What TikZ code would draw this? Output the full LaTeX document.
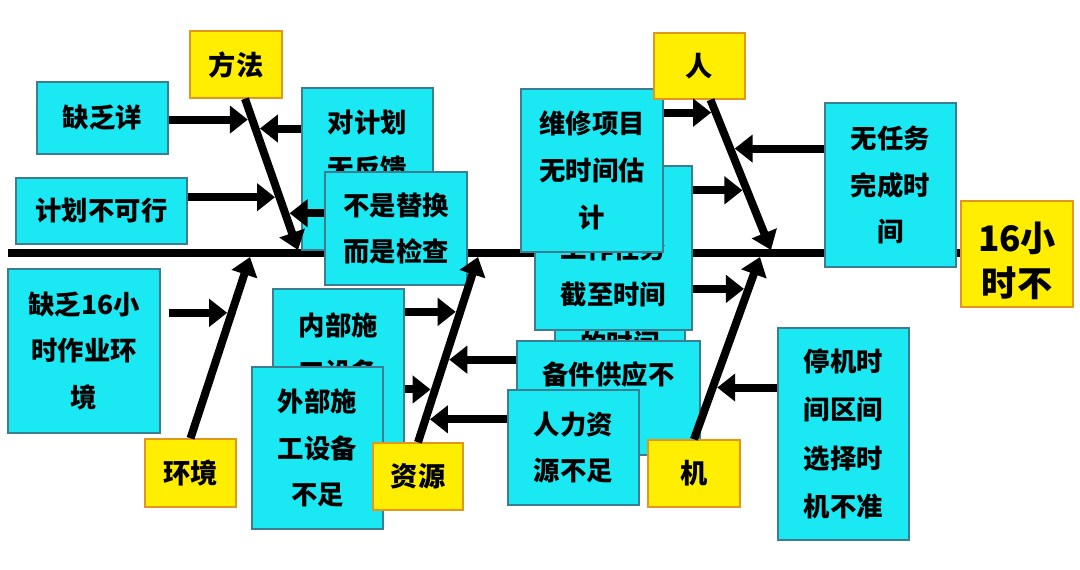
\documentclass[tikz,border=0pt]{standalone}
\usepackage{fontspec}
\setmainfont{Noto Sans CJK SC}
\usetikzlibrary{arrows.meta,fit,calc}

\definecolor{boxcyan}{RGB}{26,232,242}
\definecolor{boxedge}{RGB}{60,125,145}
\definecolor{lblyellow}{RGB}{255,238,0}
\definecolor{lbledge}{RGB}{226,150,30}

\tikzset{
  cause/.style={draw=boxedge, fill=boxcyan, line width=0.6pt, inner sep=0pt},
  causetext/.style={align=center, font=\bfseries\fontsize{15}{26.5}\selectfont},
  category/.style={draw=lbledge, fill=lblyellow, line width=0.8pt, inner sep=0pt},
  categorytext/.style={align=center, font=\bfseries\fontsize{15.5}{26}\selectfont},
  headtext/.style={align=center, yshift=-0.14cm,
    font=\bfseries\fontsize{20}{26}\selectfont},
  spine/.style={line width=0.16cm},
  bone/.style={line width=0.16cm, -{Triangle[length=0.36cm,width=0.52cm]}},
  twig/.style={line width=0.16cm, -{Triangle[length=0.36cm,width=0.54cm]}, shorten >=0.09cm},
}

\begin{document}
\begin{tikzpicture}[x=0.02cm, y=-0.02cm]
  \useasboundingbox (0,0) rectangle (1080,569);

  % Spine
  \coordinate (tail) at (8,253);
  \coordinate (spineend) at (961,253);
  \draw[spine] (tail) -- (spineend);

  % Causes: method
  \node[cause, fit={(302,88) (433,250)},
    label={[causetext, name=djt]center:{对计划\\无反馈\\\phantom{无反馈}}}] (dj) {};
  \node[cause, fit={(325,172) (467,285)},
    label={[causetext, name=bst]center:{不是替换\\而是检查}}] (bs) {};
  \node[cause, fit={(37,82) (168,154)},
    label={[causetext, name=qxt]center:缺乏详}] (qx) {};
  \node[cause, fit={(16,178) (187,244)},
    label={[causetext, name=bkt]center:计划不可行}] (bk) {};

  % Causes: environment
  \node[cause, fit={(8,269) (160,433)},
    label={[causetext, name=hj16t]center:{缺乏16小\\时作业环\\境}}] (hj16) {};

  % Causes: people
  \node[cause, fit={(555,322) (685,364)},
    label={[causetext, name=sjt]center:的时间}] (sj) {};
  \node[cause, fit={(535,166) (692,330)},
    label={[causetext, name=gzt]center:{\phantom{工作任务}\\工作任务\\截至时间}}] (gz) {};
  \node[cause, fit={(521,89) (663,252)},
    label={[causetext, name=wxt]center:{维修项目\\无时间估\\计}}] (wx) {};
  \node[cause, fit={(825,103) (956,267)},
    label={[causetext, name=wrt]center:{无任务\\完成时\\间}}] (wr) {};

  % Causes: resources
  \node[cause, fit={(517,341) (700,455)},
    label={[causetext, name=bjt]center:{备件供应不\\\phantom{足}}}] (bj) {};
  \node[cause, fit={(508,390) (639,505)},
    label={[causetext, name=rlt]center:{人力资\\源不足}}] (rl) {};
  \node[cause, fit={(273,289) (404,455)},
    label={[causetext, name=nbt]center:{内部施\\工设备\\\phantom{不足}}}] (nb) {};
  \node[cause, fit={(252,367) (383,529)},
    label={[causetext, name=wbt]center:{外部施\\工设备\\不足}}] (wb) {};

  % Causes: machine
  \node[cause, fit={(778,328) (909,540)},
    label={[causetext, name=tjt, font=\bfseries\fontsize{15}{27.5}\selectfont]center:{停机时\\间区间\\选择时\\机不准}}] (tj) {};

  % Categories and head
  \node[category, fit={(190,31) (282,98)},
    label={[categorytext, name=fft]center:方法}] (ff) {};
  \node[category, fit={(654,33) (745,99)},
    label={[categorytext, name=rrt]center:人}] (rr) {};
  \node[category, fit={(145,439) (236,507)},
    label={[categorytext, name=hjt]center:环境}] (hj) {};
  \node[category, fit={(373,443) (463,510)},
    label={[categorytext, name=zyt]center:资源}] (zy) {};
  \node[category, fit={(648,440) (740,507)},
    label={[categorytext, name=jqt]center:机}] (jq) {};
  \node[category, fit={(961,201) (1073,307)},
    label={[headtext, name=headt]center:{16小\\时不}}] (head) {};

  % Bones
  \coordinate (mtip) at (298,250);
  \coordinate (ptip) at (771,250);
  \coordinate (etip) at (250,257);
  \coordinate (rtip) at (478,257);
  \coordinate (jtip) at (760,257);

  \draw[bone] ($(ff.south)+(9,0)$) coordinate (mtop) -- (mtip);
  \draw[bone] ($(rr.south)+(11,0)$) coordinate (ptop) -- (ptip);
  \draw[bone] (hj.north) -- (etip);
  \draw[bone] (zy.north) -- (rtip);
  \draw[bone] (jq.north) -- (jtip);

  \path (mtop) -- (mtip) coordinate[pos=0.138] (m1) coordinate[pos=0.197] (m2)
    coordinate[pos=0.651] (m3) coordinate[pos=0.757] (m4);
  \path (ptop) -- (ptip) coordinate[pos=0.086] (p1) coordinate[pos=0.325] (p2)
    coordinate[pos=0.603] (p3);
  \path (hj.north) -- (etip) coordinate[pos=0.692] (e1);
  \path (zy.north) -- (rtip) coordinate[pos=0.124] (r4) coordinate[pos=0.285] (r3)
    coordinate[pos=0.446] (r2) coordinate[pos=0.704] (r1);
  \path (jq.north) -- (jtip) coordinate[pos=0.284] (j2) coordinate[pos=0.825] (j1);

  % Twigs
  \draw[twig] (qx.east |- m1) -- (m1);
  \draw[twig] (dj.west |- m2) -- (m2);
  \draw[twig] (bk.east |- m3) -- (m3);
  \draw[twig] (bs.west |- m4) -- (m4);

  \draw[twig] (wx.east |- p1) -- (p1);
  \draw[twig] (wr.west |- p2) -- (p2);
  \draw[twig] (gz.east |- p3) -- (p3);

  \draw[twig, shorten <=0.16cm] (hj16.east |- e1) -- (e1);

  \draw[twig] (nb.east |- r1) -- (r1);
  \draw[twig] (bj.west |- r2) -- (r2);
  \draw[twig] (nb.east |- r3) -- (r3);
  \draw[twig] (rl.west |- r4) -- (r4);

  \draw[twig] (gz.east |- j1) -- (j1);
  \draw[twig] (tj.west |- j2) -- (j2);
\end{tikzpicture}
\end{document}
